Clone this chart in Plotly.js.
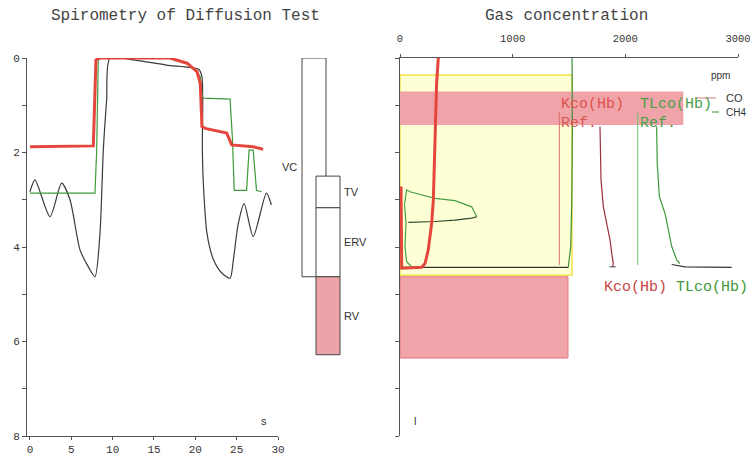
<!DOCTYPE html>
<html><head><meta charset="utf-8">
<script src="https://cdn.plot.ly/plotly-3.0.1.min.js"></script>
<style>html,body{margin:0;padding:0;background:#fff}#chart{width:750px;height:456px}</style>
</head><body><div id="chart"></div>
<script>
// ---------- Left panel: spirometry, volume (l) vs time (s) ----------
var redTime = [0, 4.4, 7.66, 7.98, 8.47, 16.9, 19.0, 20.2, 20.6, 20.8, 21.2, 23.8, 24.4, 27.0, 28.2];
var redVol  = [1.88, 1.86, 1.86, 0.04, 0, 0, 0.11, 0.29, 0.54, 1.45, 1.49, 1.59, 1.84, 1.88, 1.93];

var greenTime = [0, 7.86, 8.07, 8.26, 8.6, 16.9, 19.0, 20.2, 20.6, 20.85, 21.0, 24.2, 24.5, 24.7, 26.2, 26.5, 27.0, 27.4, 28.0];
var greenVol  = [2.86, 2.86, 1.95, 0.04, 0, 0, 0.11, 0.29, 0.4, 0.82, 0.85, 0.87, 1.74, 2.8, 2.8, 1.95, 1.95, 2.8, 2.83];

var blackTime = [0, 0.6, 2.42, 3.83, 4.84, 6.05, 7.06, 7.86, 8.47, 8.87, 9.27, 9.68, 12.5, 16.5, 20.4, 20.8, 20.85, 20.97, 21.4, 22.2, 23.2, 24.2, 24.6, 25.2, 25.9, 27.0, 28.6, 29.2];
var blackVol  = [2.83, 2.58, 3.36, 2.65, 3.0, 4.06, 4.42, 4.63, 3.7, 1.95, 0.89, 0.0, 0.04, 0.15, 0.24, 0.4, 1.95, 2.65, 3.7, 4.27, 4.55, 4.66, 4.27, 3.5, 3.08, 3.78, 2.86, 3.11];

var timeTicks = [0, 5, 10, 15, 20, 25, 30];
var volTicks = [0, 1, 2, 3, 4, 5, 6, 7, 8];
var volTickText = ['0', '', '2', '', '4', '', '6', '', '8'];

// Lung volume compartments (l)
var volumeNames  = ['VC', 'TV', 'ERV', 'RV'];
var volumeTop    = [0, 2.5, 3.17, 4.63];
var volumeBottom = [4.63, 3.17, 4.63, 6.28];

// ---------- Right panel: gas concentration (ppm) vs volume (l) ----------
var coPpm = [9, 9, 15, 192, 222, 251, 281, 296, 311, 325, 340];
var coVol = [2.72, 4.06, 4.45, 4.43, 4.35, 4.06, 3.5, 3.0, 1.95, 0.54, 0];

var ch4Ppm = [1527, 1530, 1525, 1515, 1500, 1494];
var ch4Vol = [0, 1.5, 3.0, 4.0, 4.3, 4.43];

var baselinePpm = [20, 1494];
var baselineVol = [4.43, 4.43];

var loopOutPpm = [40, 50, 59, 89, 311, 488, 636, 681];
var loopOutVol = [3.1, 2.95, 2.79, 2.83, 2.97, 3.02, 3.15, 3.36];
var loopBackPpm = [681, 636, 488, 311, 74];
var loopBackVol = [3.36, 3.39, 3.43, 3.46, 3.48];
var loopDownPpm = [40, 53, 44, 59, 104, 180];
var loopDownVol = [3.1, 3.48, 4.0, 4.31, 4.42, 4.44];

var kcoRefPpm = [1414, 1414];
var kcoRefVol = [1.13, 4.38];
var kcoPpm = [1775, 1784, 1805, 1835, 1864, 1879, 1893, 1888];
var kcoVol = [1.45, 2.58, 3.15, 3.5, 3.85, 4.13, 4.35, 4.42];
var kcoFootPpm = [1860, 1915];
var kcoFootVol = [4.42, 4.42];

var tlcoRefPpm = [2110, 2110];
var tlcoRefVol = [1.17, 4.38];
var tlcoPpm = [2278, 2283, 2302, 2352, 2382, 2412, 2456, 2485];
var tlcoVol = [1.45, 2.23, 2.93, 3.29, 3.64, 3.99, 4.28, 4.35];
var tlcoTailPpm = [2412, 2530, 2944];
var tlcoTailVol = [4.37, 4.42, 4.43];

var ppmTicks = [0, 1000, 2000, 3000];

// shaded regions [ppm0, ppm1, vol0, vol1]
var yellowRegion = [0, 1527, 0.36, 4.6];
var pinkBand1 = [0, 2515, 0.71, 1.42];
var pinkBand2 = [0, 1491, 4.63, 6.35];

// ---------- styling helpers ----------
function PX(x) { return x / 750; }
function PY(y) { return 1 - y / 456; }
var mono = 'Liberation Mono, Courier New, monospace';
var sans = 'Liberation Sans, Arial, sans-serif';
var txt = '#333';

function line(x, y, xa, ya, color, width, shape) {
  return {type: 'scatter', mode: 'lines', x: x, y: y, xaxis: xa, yaxis: ya,
    line: {color: color, width: width, shape: shape || 'linear', smoothing: 0.7},
    hoverinfo: 'skip', showlegend: false};
}

var traces = [];
// left
traces.push(line(blackTime, blackVol, 'x', 'y', '#3a3a3a', 1.2, 'spline'));
traces.push(line(greenTime, greenVol, 'x', 'y', '#3f9a3a', 1.2));
traces.push(line(redTime, redVol, 'x', 'y', '#e4463c', 3));

// volume boxes
var boxX = [314, 328, 328, 328];
var boxFill = ['#ffffff', '#ffffff', '#ffffff', '#eca4aa'];
for (var i = 0; i < volumeNames.length; i++) {
  traces.push({type: 'bar', x: [boxX[i]], y: [volumeBottom[i] - volumeTop[i]], base: [volumeTop[i]],
    width: [24], xaxis: 'x3', yaxis: 'y', hoverinfo: 'skip', showlegend: false,
    marker: {color: boxFill[i], line: {color: '#444', width: 1}}});
}

// right
traces.push(line(ch4Ppm, ch4Vol, 'x2', 'y2', '#3f8f3a', 1.2));
traces.push(line(baselinePpm, baselineVol, 'x2', 'y2', '#333', 1.2));
traces.push(line(loopOutPpm, loopOutVol, 'x2', 'y2', '#45a045', 1.2));
traces.push(line(loopDownPpm, loopDownVol, 'x2', 'y2', '#45a045', 1.2));
traces.push(line(loopBackPpm, loopBackVol, 'x2', 'y2', '#2f4a2f', 1.2));
traces.push(line(coPpm, coVol, 'x2', 'y2', '#e4463c', 3));
traces.push(line(kcoRefPpm, kcoRefVol, 'x2', 'y2', '#d97070', 1));
traces.push(line(kcoPpm, kcoVol, 'x2', 'y2', '#9c3040', 1.2));
traces.push(line(kcoFootPpm, kcoFootVol, 'x2', 'y2', '#444', 1));
traces.push(line(tlcoRefPpm, tlcoRefVol, 'x2', 'y2', '#6cc56c', 1));
traces.push(line(tlcoPpm, tlcoVol, 'x2', 'y2', '#3f9a3a', 1.2));
traces.push(line(tlcoTailPpm, tlcoTailVol, 'x2', 'y2', '#333', 1.2));

function rect(r, fill, lc, lw) {
  return {type: 'rect', xref: 'x2', yref: 'y2', x0: r[0], x1: r[1], y0: r[2], y1: r[3],
    fillcolor: fill, line: {color: lc, width: lw}, layer: 'below'};
}
var shapes = [
  rect(yellowRegion, '#ffffd6', '#f2e24a', 1.5),
  rect(pinkBand1, '#f0a4aa', 'rgba(0,0,0,0)', 0),
  rect(pinkBand2, '#f0a4aa', '#e27a7a', 1),
  {type: 'line', xref: 'paper', yref: 'paper', x0: PX(695), x1: PX(716), y0: PY(98), y1: PY(98), line: {color: '#e07a7a', width: 1}},
  {type: 'line', xref: 'paper', yref: 'paper', x0: PX(712), x1: PX(719), y0: PY(112), y1: PY(112), line: {color: '#3f8f3a', width: 1}}
];

function ann(text, x, y, opts) {
  var a = {text: text, x: x, y: y, xref: 'paper', yref: 'paper', showarrow: false,
    xanchor: 'center', yanchor: 'middle', font: {family: sans, size: 11, color: txt}};
  for (var k in opts) a[k] = opts[k];
  return a;
}
var annotations = [
  ann('Spirometry of Diffusion Test', PX(185), PY(16), {font: {family: mono, size: 16, color: '#444'}}),
  ann('Gas concentration', PX(566), PY(16), {font: {family: mono, size: 16, color: '#444'}}),
  ann('s', PX(264), PY(421), {font: {family: sans, size: 11, color: txt}}),
  ann('l', PX(415), PY(421), {font: {family: sans, size: 11, color: txt}}),
  ann('ppm', PX(720), PY(75), {font: {family: sans, size: 10, color: txt}}),
  ann('CO', PX(724), PY(98), {xanchor: 'left', font: {family: sans, size: 11, color: txt}}),
  ann('CH4', PX(724), PY(112), {xanchor: 'left', font: {family: sans, size: 10, color: txt}}),
  ann('Kco(Hb)', kcoRefPpm[0], 0.98, {xref: 'x2', yref: 'y2', y: 0.98, xanchor: 'left', font: {family: mono, size: 15, color: '#e0504a'}}),
  ann('Ref.', kcoRefPpm[0], 1.38, {xref: 'x2', yref: 'y2', xanchor: 'left', font: {family: mono, size: 15, color: '#d85a50'}}),
  ann('TLco(Hb)', tlcoRefPpm[0], 0.98, {xref: 'x2', yref: 'y2', xanchor: 'left', font: {family: mono, size: 15, color: '#4aa04a'}}),
  ann('Ref.', tlcoRefPpm[0], 1.38, {xref: 'x2', yref: 'y2', xanchor: 'left', font: {family: mono, size: 15, color: '#4aa04a'}}),
  ann('Kco(Hb)', PX(602), PY(287), {xanchor: 'left', font: {family: mono, size: 15, color: '#c84848'}}),
  ann('TLco(Hb)', PX(674), PY(287), {xanchor: 'left', font: {family: mono, size: 15, color: '#3f9a3a'}})
];
// compartment labels at the middle of each compartment
var labelX = [PX(299), PX(342), PX(342), PX(342)];
var labelAnchor = ['right', 'left', 'left', 'left'];
for (var j = 0; j < volumeNames.length; j++) {
  annotations.push({text: volumeNames[j], x: labelX[j], xref: 'paper',
    y: (volumeTop[j] + volumeBottom[j]) / 2, yref: 'y', showarrow: false,
    xanchor: labelAnchor[j], yanchor: 'middle',
    font: {family: 'Liberation Sans Narrow, Liberation Sans, Arial, sans-serif', size: 11, color: txt}});
}

var axCommon = {showgrid: false, zeroline: false, showline: true, linecolor: '#555', linewidth: 1,
  ticks: 'outside', tickcolor: '#555', ticklen: 3, tickwidth: 1, fixedrange: true,
  tickfont: {family: mono, size: 11, color: txt}};
function ax(o) { var a = JSON.parse(JSON.stringify(axCommon)); for (var k in o) a[k] = o[k]; return a; }

var layout = {
  width: 750, height: 456, margin: {l: 0, r: 0, t: 0, b: 0},
  paper_bgcolor: '#fff', plot_bgcolor: 'rgba(0,0,0,0)', showlegend: false, barmode: 'overlay',
  xaxis: ax({domain: [PX(27), PX(278)], range: [-0.36, 30], tickvals: timeTicks, anchor: 'y'}),
  yaxis: ax({domain: [PY(436), PY(58)], range: [8, 0], tickvals: volTicks, ticktext: volTickText, ticklen: 4, anchor: 'x'}),
  xaxis2: ax({domain: [PX(400), PX(738)], range: [0, 3000], side: 'top', tickvals: ppmTicks, anchor: 'y2',
    ticklabelstandoff: 8, ticklabeloverflow: 'allow', tickfont: {family: mono, size: 10.5, color: txt}}),
  yaxis2: ax({domain: [PY(436), PY(58)], range: [8, 0], tickvals: volTicks, showticklabels: false, ticklen: 4, anchor: 'x2'}),
  xaxis3: {domain: [PX(290), PX(350)], range: [290, 350], visible: false, anchor: 'y', fixedrange: true},
  shapes: shapes,
  annotations: annotations
};

Plotly.newPlot('chart', traces, layout, {displayModeBar: false, staticPlot: true});
</script>
</body></html>
